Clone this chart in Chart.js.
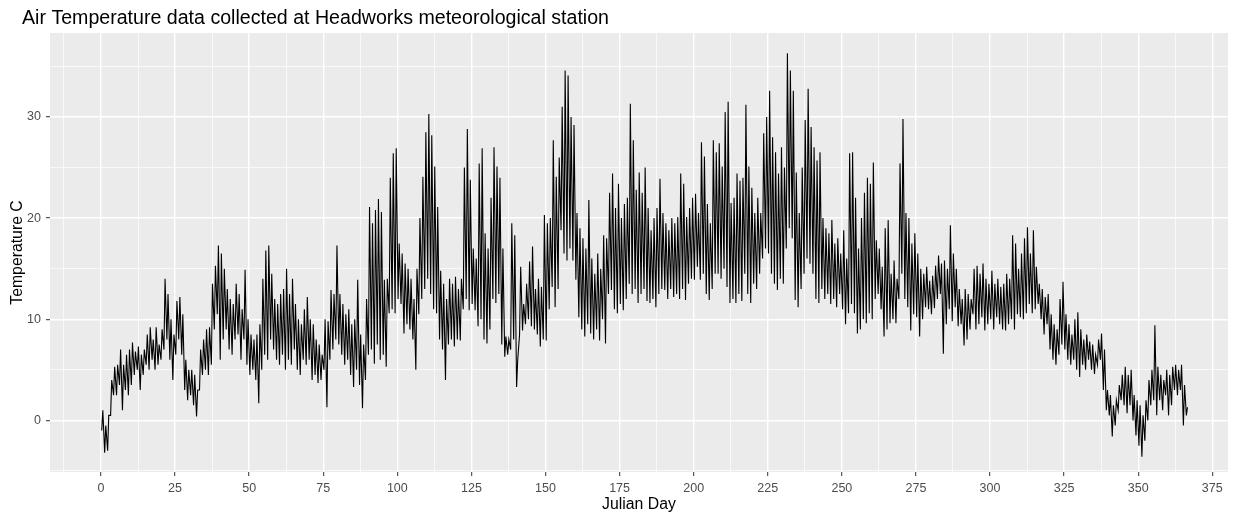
<!DOCTYPE html>
<html>
<head>
<meta charset="utf-8">
<title>Air Temperature - Headworks</title>
<script src="https://cdn.jsdelivr.net/npm/chart.js@4.4.1/dist/chart.umd.min.js"></script>
<style>
  html, body { margin: 0; padding: 0; background: #ffffff; }
  #wrap { width: 1239px; height: 515px; position: relative; }
</style>
</head>
<body>
<div id="wrap"><canvas id="grafica-temp"></canvas></div>
<script>
// Temperatura del aire, estación Headworks: mínimo y máximo diario (°C)
// índice 0 = día juliano 0
const primerDia = 0;
const horaMin = 6;   // hora aprox. del mínimo
const horaMax = 15;  // hora aprox. del máximo

const tempMin = [
  -1.0, -3.2, -3.0, 0.5, 2.5, 2.5, 3.5, 1.0, 3.0, 2.5,
  3.5, 4.5, 5.0, 3.0, 4.5, 5.5, 5.0, 6.0, 5.0, 5.5,
  6.0, 7.0, 8.0, 6.0, 4.0, 6.5, 8.0, 6.5, 3.0, 2.0,
  2.5, 1.5, 0.4, 3.0, 4.5, 5.0, 4.5, 5.5, 9.0, 10.5,
  6.0, 8.0, 9.0, 7.0, 6.5, 8.0, 8.5, 6.0, 8.0, 5.5,
  4.5, 5.0, 4.0, 1.7, 5.0, 6.5, 6.0, 8.0, 7.0, 6.0,
  5.5, 6.5, 5.0, 6.0, 5.5, 7.0, 5.0, 4.5, 6.0, 5.5,
  6.0, 4.0, 4.5, 3.7, 4.0, 5.0, 1.3, 6.0, 7.0, 8.0,
  7.5, 6.5, 5.5, 6.0, 4.5, 3.3, 5.0, 3.5, 1.2, 4.0,
  6.5, 7.0, 5.6, 7.5, 6.0, 6.5, 5.3, 10.6, 11.0, 10.6,
  12.0, 11.5, 8.6, 9.5, 9.0, 8.0, 5.0, 10.5, 12.0, 13.0,
  14.0, 12.5, 11.0, 10.6, 8.0, 7.0, 4.0, 7.5, 8.0, 7.3,
  8.0, 7.9, 11.0, 12.0, 10.9, 11.5, 10.9, 9.3, 10.0, 8.0,
  7.6, 9.0, 12.0, 11.6, 12.5, 7.5, 6.3, 6.5, 7.0, 8.0,
  3.3, 8.5, 8.9, 9.5, 10.0, 9.3, 9.0, 8.5, 7.3, 8.0,
  7.9, 11.0, 13.2, 11.2, 13.0, 18.8, 16.5, 15.8, 17.0, 15.8,
  13.9, 10.2, 9.0, 8.3, 9.5, 8.6, 8.0, 9.0, 7.9, 10.0,
  7.6, 12.5, 12.9, 11.0, 10.6, 11.5, 10.9, 12.0, 13.5, 12.5,
  13.0, 11.6, 12.5, 13.0, 11.8, 11.6, 12.0, 11.2, 12.5, 13.0,
  12.9, 12.0, 13.0, 12.2, 12.5, 12.0, 13.0, 11.9, 13.5, 14.0,
  13.9, 15.2, 13.9, 14.5, 12.5, 11.9, 13.0, 14.5, 14.5, 14.0,
  15.0, 13.2, 11.6, 12.0, 11.6, 12.5, 11.8, 14.5, 12.5, 11.6,
  13.5, 13.0, 14.5, 16.0, 17.0, 16.5, 14.5, 13.5, 12.9, 14.0,
  13.5, 17.0, 19.0, 18.0, 11.9, 11.2, 13.0, 14.5, 16.0, 15.5,
  14.5, 12.0, 11.6, 13.0, 12.0, 12.5, 11.5, 12.0, 11.2, 12.5,
  11.0, 9.5, 10.6, 11.5, 10.6, 8.6, 9.0, 10.0, 9.6, 10.6,
  10.0, 12.0, 12.5, 11.0, 8.3, 9.0, 9.6, 10.0, 9.6, 12.0,
  14.5, 12.0, 11.2, 8.9, 10.5, 10.2, 8.3, 10.0, 11.2, 11.0,
  10.5, 11.1, 12.0, 12.5, 6.6, 9.5, 11.0, 9.8, 11.2, 9.3,
  9.5, 7.4, 8.0, 9.0, 10.5, 9.0, 9.5, 10.2, 8.9, 9.5,
  10.0, 9.0, 10.2, 9.5, 9.0, 8.9, 9.5, 10.0, 9.0, 10.5,
  10.2, 10.0, 10.6, 11.5, 10.6, 11.0, 11.5, 10.0, 8.5, 9.5,
  7.0, 6.0, 5.5, 6.5, 7.5, 7.0, 6.0, 5.5, 6.0, 5.0,
  4.3, 5.5, 5.0, 6.0, 5.0, 4.6, 5.5, 6.0, 3.0, 1.0,
  0.5, -1.6, -0.5, 1.0, 2.0, 1.5, 0.7, 1.5, 0.0, -1.5,
  -2.5, -3.6, -2.0, 0.0, 1.5, 2.0, 0.5, 2.0, 1.0, 2.5,
  0.5, 1.5, 3.0, 2.5, 3.0, -0.5, 0.5
];

const tempMax = [
  1.0, -0.5, 0.5, 4.0, 5.3, 5.5, 7.0, 5.5, 6.5, 7.0,
  7.7, 6.8, 7.3, 6.5, 7.0, 8.5, 9.2, 8.0, 9.2, 7.5,
  9.0, 14.0, 12.5, 10.0, 8.5, 11.8, 12.2, 10.5, 6.0, 5.0,
  5.0, 4.5, 3.0, 7.0, 8.0, 9.0, 9.2, 13.5, 15.3, 17.3,
  16.5, 15.0, 13.0, 12.0, 11.5, 13.5, 12.5, 11.0, 14.9, 10.0,
  8.5, 8.0, 8.5, 9.5, 14.0, 16.8, 17.3, 14.5, 12.0, 11.5,
  12.5, 13.0, 15.0, 12.5, 14.0, 11.5, 10.0, 9.5, 11.0, 12.2,
  10.0, 9.5, 8.0, 7.5, 6.5, 10.0, 9.8, 12.9, 12.5, 17.3,
  12.5, 11.5, 10.5, 11.0, 9.5, 10.0, 13.9, 8.5, 7.5, 12.0,
  21.1, 19.5, 20.8, 21.9, 20.6, 13.9, 14.0, 24.0, 26.4, 26.9,
  17.5, 16.5, 15.5, 15.0, 14.0, 12.0, 15.0, 20.0, 24.1, 28.5,
  30.3, 28.2, 25.1, 21.1, 14.8, 13.5, 12.0, 14.0, 13.5, 14.2,
  13.0, 14.0, 25.0, 28.8, 23.8, 17.0, 16.0, 25.4, 26.9, 18.5,
  17.0, 22.0, 27.0, 25.1, 24.0, 17.0, 8.3, 8.0, 19.5, 18.3,
  6.0, 15.2, 11.5, 13.5, 15.7, 17.2, 13.0, 14.0, 13.2, 20.3,
  19.5, 20.0, 27.7, 24.1, 26.0, 31.0, 34.6, 34.1, 30.0, 29.2,
  20.5, 19.0, 18.0, 17.0, 21.8, 16.0, 14.5, 16.5, 15.0, 18.3,
  18.0, 22.5, 24.4, 21.0, 23.4, 20.0, 21.4, 22.0, 31.3, 27.7,
  22.8, 24.5, 22.5, 25.0, 21.0, 18.8, 20.0, 21.0, 23.9, 20.5,
  19.5, 18.8, 20.0, 19.5, 20.1, 24.4, 23.4, 20.1, 21.0, 22.0,
  22.4, 20.5, 27.5, 26.1, 21.4, 19.5, 27.7, 26.5, 27.4, 25.1,
  30.5, 31.5, 21.5, 22.0, 24.4, 23.7, 24.0, 31.2, 25.1, 23.0,
  20.5, 22.0, 20.5, 28.4, 30.0, 32.6, 28.0, 26.5, 24.4, 27.0,
  25.0, 36.3, 34.6, 32.6, 24.5, 20.5, 25.0, 29.7, 32.8, 29.0,
  27.0, 25.7, 26.5, 20.0, 19.0, 18.5, 19.8, 17.5, 18.0, 16.5,
  18.8, 16.0, 26.4, 26.5, 22.0, 17.0, 20.0, 22.5, 24.0, 23.4,
  25.5, 17.8, 17.0, 15.2, 19.0, 19.8, 14.5, 15.8, 14.0, 25.4,
  29.8, 20.5, 20.0, 17.5, 18.5, 16.5, 15.0, 14.5, 15.2, 13.8,
  14.3, 15.3, 16.3, 15.5, 15.8, 15.0, 19.3, 16.5, 15.0, 13.0,
  12.0, 13.0, 12.5, 12.0, 15.0, 15.3, 14.5, 15.5, 14.0, 13.5,
  14.8, 13.5, 14.0, 13.2, 13.5, 14.5, 14.0, 18.3, 17.5, 15.0,
  16.5, 18.0, 19.1, 16.5, 18.8, 15.2, 13.5, 13.0, 12.2, 12.5,
  10.5, 9.5, 9.0, 12.0, 13.7, 10.5, 9.5, 8.5, 10.0, 10.7,
  9.0, 8.0, 8.5, 7.8, 7.5, 6.5, 8.0, 8.6, 7.0, 3.0,
  2.5, 1.5, 2.0, 3.5, 4.5, 5.3, 4.5, 5.0, 2.5, 2.0,
  1.5, 0.5, 2.0, 4.0, 5.0, 9.4, 5.3, 4.5, 4.0, 5.0,
  4.5, 5.3, 5.5, 5.0, 5.5, 3.5, 1.3
];

// Ejes
const xMin = -17.2, xMax = 380.3, xPaso = 12.5, xMayor = 25;
const yMin = -5.1, yMax = 38.3, yPaso = 5, yMayor = 10;

const fuente = '"Liberation Sans", Arial, sans-serif';
const colorPanel = '#EBEBEB';
const colorTexto = '#4D4D4D';
const colorMarca = '#333333';

// serie: mínimo y máximo de cada día en orden de hora
const puntos = [];
for (let i = 0; i < tempMin.length; i++) {
  const dia = primerDia + i;
  puntos.push({ x: dia + horaMin / 24, y: tempMin[i] });
  puntos.push({ x: dia + horaMax / 24, y: tempMax[i] });
}

function esMayor(v, paso) {
  return Math.abs(v / paso - Math.round(v / paso)) < 1e-6;
}

// fondo gris del panel y título
const fondoPanel = {
  id: 'fondoPanel',
  beforeDraw(chart) {
    const { ctx, chartArea: a } = chart;
    ctx.save();
    ctx.fillStyle = colorPanel;
    ctx.fillRect(a.left, a.top, a.right - a.left, a.bottom - a.top);
    ctx.restore();
  },
  afterDraw(chart) {
    const ctx = chart.ctx;
    ctx.save();
    ctx.font = '19.6px ' + fuente;
    ctx.fillStyle = '#000000';
    ctx.textBaseline = 'alphabetic';
    ctx.textAlign = 'left';
    ctx.fillText('Air Temperature data collected at Headworks meteorological station', 22, 24);
    ctx.restore();
  }
};

const ctx = document.getElementById('grafica-temp').getContext('2d');
new Chart(ctx, {
  type: 'line',
  data: {
    datasets: [{
      label: 'Air Temperature',
      data: puntos,
      borderColor: '#000000',
      borderWidth: 1.1,
      pointRadius: 0,
      tension: 0,
      fill: false
    }]
  },
  options: {
    responsive: true,
    maintainAspectRatio: false,
    animation: false,
    layout: { padding: { top: 33, right: 11, left: 0, bottom: 0 } },
    plugins: {
      legend: { display: false },
      title: { display: false },
      tooltip: { enabled: false }
    },
    scales: {
      x: {
        type: 'linear',
        min: xMin,
        max: xMax,
        afterFit(scale) { scale.height = 43; },
        border: { display: false },
        grid: {
          color: '#FFFFFF',
          lineWidth: c => esMayor(c.tick.value, xMayor) ? 1.4 : 0.7,
          drawTicks: true,
          tickLength: 4,
          tickWidth: 1,
          tickColor: c => esMayor(c.tick.value, xMayor) ? colorMarca : 'rgba(0,0,0,0)'
        },
        ticks: {
          stepSize: xPaso,
          includeBounds: false,
          autoSkip: false,
          maxRotation: 0,
          padding: 5,
          color: colorTexto,
          font: { family: fuente, size: 12.5 },
          callback: v => esMayor(v, xMayor) ? String(v) : ''
        },
        title: {
          display: true,
          text: 'Julian Day',
          color: '#000000',
          font: { family: fuente, size: 15.8 },
          padding: { top: 0, bottom: 1 }
        }
      },
      y: {
        min: yMin,
        max: yMax,
        afterFit(scale) { scale.width = 50; },
        border: { display: false },
        grid: {
          color: '#FFFFFF',
          lineWidth: c => esMayor(c.tick.value, yMayor) ? 1.4 : 0.7,
          drawTicks: true,
          tickLength: 4,
          tickWidth: 1,
          tickColor: c => esMayor(c.tick.value, yMayor) ? colorMarca : 'rgba(0,0,0,0)'
        },
        ticks: {
          stepSize: yPaso,
          includeBounds: false,
          padding: 5,
          color: colorTexto,
          font: { family: fuente, size: 12.5 },
          callback: v => esMayor(v, yMayor) ? String(v) : ''
        },
        title: {
          display: true,
          text: 'Temperature C',
          color: '#000000',
          font: { family: fuente, size: 15.8 },
          padding: { top: 8, bottom: 0 }
        }
      }
    }
  },
  plugins: [fondoPanel]
});
</script>
</body>
</html>
